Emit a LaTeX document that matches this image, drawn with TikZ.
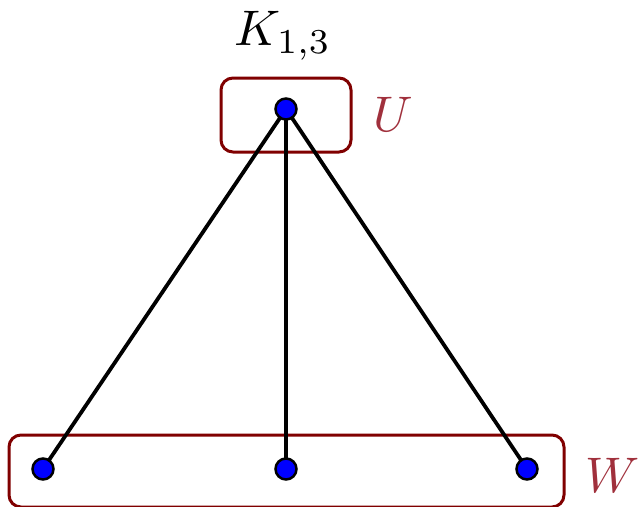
\documentclass[tikz,border=0pt]{standalone}
\begin{document}
\begin{tikzpicture}[x=1pt,y=-1pt,
  vert/.style={circle,draw=black,fill=blue,line width=2.5pt,minimum size=21pt,inner sep=0pt},
  edge/.style={line width=3.8pt,black},
  partbox/.style={draw={rgb,255:red,128;green,0;blue,0},line width=3pt,rounded corners=12pt},
  partlabel/.style={text={rgb,255:red,160;green,48;blue,60},scale=5},
  ttl/.style={scale=5}]
\useasboundingbox (0,0) rectangle (644,506);
\draw[partbox] (221,78) rectangle (351,152);
\draw[partbox] (9,435) rectangle (564,507);
\node[partlabel] (lu) at (393,114) {$U$};
\node[partlabel] (lw) at (613,475) {$W$};
\node[ttl] (t) at (283,36) {$K_{1,3}$};
\coordinate (u) at (286,109);
\coordinate (w1) at (43,469);
\coordinate (w2) at (286,469);
\coordinate (w3) at (527,469);
\draw[edge] (u) -- (w1);
\draw[edge] (u) -- (w2);
\draw[edge] (u) -- (w3);
\node[vert] (nu) at (u) {};
\node[vert] (n1) at (w1) {};
\node[vert] (n2) at (w2) {};
\node[vert] (n3) at (w3) {};
\end{tikzpicture}
\end{document}
